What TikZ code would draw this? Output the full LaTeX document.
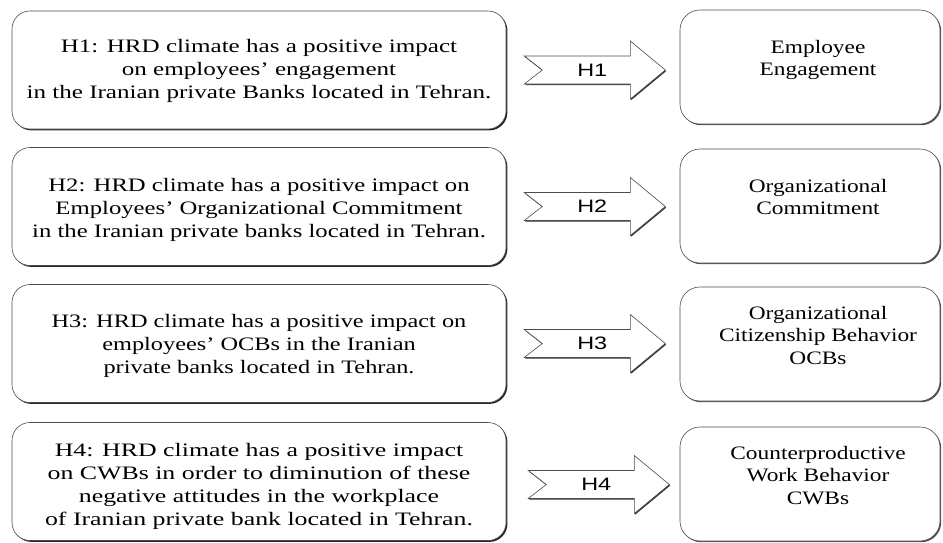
\documentclass[tikz,border=0pt]{standalone}
\usepackage{fontspec}
\setmainfont{Liberation Serif}
\newfontfamily\arrowfont[FakeStretch=1.3]{Liberation Sans}
\usetikzlibrary{shadows}
\usetikzlibrary{calc,positioning}

\begin{document}
\begin{tikzpicture}[x=1pt, y=-1pt,
    hypo/.style={draw=black!70, line width=0.6pt, rounded corners=18pt, fill=white,
        drop shadow={shadow xshift=1.4pt, shadow yshift=-1.4pt, fill=black!85, opacity=1},
        minimum width=494pt, minimum height=118pt, inner sep=0pt},
    hyptext/.style={align=center, inner sep=0pt,
        font=\fontsize{19}{23}\selectfont\addfontfeature{FakeStretch=#1}},
    outcome/.style={draw=black!70, line width=0.6pt, rounded corners=20pt, fill=white,
        drop shadow={shadow xshift=1.2pt, shadow yshift=-1.2pt, fill=black!70, opacity=1},
        minimum width=260pt, minimum height=114pt, inner sep=0pt},
    outtext/.style={anchor=north, align=center, inner sep=0pt, xshift=8pt,
        font=\fontsize{19}{22.5}\selectfont\addfontfeature{FakeStretch=1.23}},
    hyparrow/.pic={
        \draw[draw=black!70, line width=0.6pt, fill=white,
            drop shadow={shadow xshift=0.8pt, shadow yshift=-1.2pt, fill=black!80, opacity=1}]
            (0,-14) -- (106,-14) -- (106,-29) -- (141,0) -- (106,29) -- (106,14)
            -- (0,14) -- (18,0) -- cycle;
        \node[font=\arrowfont\fontsize{18}{18}\selectfont] at (68,0) {#1};
    }]

    \useasboundingbox (0,0) rectangle (943,542);

    \node[hypo] (hyp1) at (259,70) {};
    \node[hypo] (hyp2) at (259,206.5) {};
    \node[hypo] (hyp3) at (259,343.5) {};
    \node[hypo] (hyp4) at (259,481.5) {};

    \node[hyptext=1.32] (txt1) at ($(hyp1)+(0,1)$) {H1: HRD climate has a positive impact\\
        on employees’ engagement\\ in the Iranian private Banks located in Tehran.};
    \node[hyptext=1.30] (txt2) at ($(hyp2)+(0,3)$) {H2: HRD climate has a positive impact on\\
        Employees’ Organizational Commitment\\ in the Iranian private banks located in Tehran.};
    \node[hyptext=1.28] (txt3) at ($(hyp3)+(0,2)$) {H3: HRD climate has a positive impact on\\
        employees’ OCBs in the Iranian\\ private banks located in Tehran.};
    \node[hyptext=1.36] (txt4) at ($(hyp4)+(0,5)$) {H4: HRD climate has a positive impact\\
        on CWBs in order to diminution of these\\ negative attitudes in the workplace\\
        of Iranian private bank located in Tehran.};

    \node[outcome] (out1) at (810,67) {};
    \node[outcome] (out2) at (810,206) {};
    \node[outcome] (out3) at (810,344) {};
    \node[outcome] (out4) at (810,484) {};

    \node[outtext, below=30pt of out1.north] (lab1) {Employee\\ Engagement};
    \node[outtext, below=30pt of out2.north] (lab2) {Organizational\\ Commitment};
    \node[outtext, below=19pt of out3.north] (lab3) {Organizational\\ Citizenship Behavior\\ OCBs};
    \node[outtext, below=19pt of out4.north] (lab4) {Counterproductive\\ Work Behavior\\ CWBs};

    \pic at ($(hyp1.east)+(18,0)$) {hyparrow=H1};
    \pic at ($(hyp2.east)+(18,0)$) {hyparrow=H2};
    \pic at ($(hyp3.east)+(18,0)$) {hyparrow=H3};
    \pic at ($(hyp4.east)+(22,3)$) {hyparrow=H4};

\end{tikzpicture}
\end{document}
